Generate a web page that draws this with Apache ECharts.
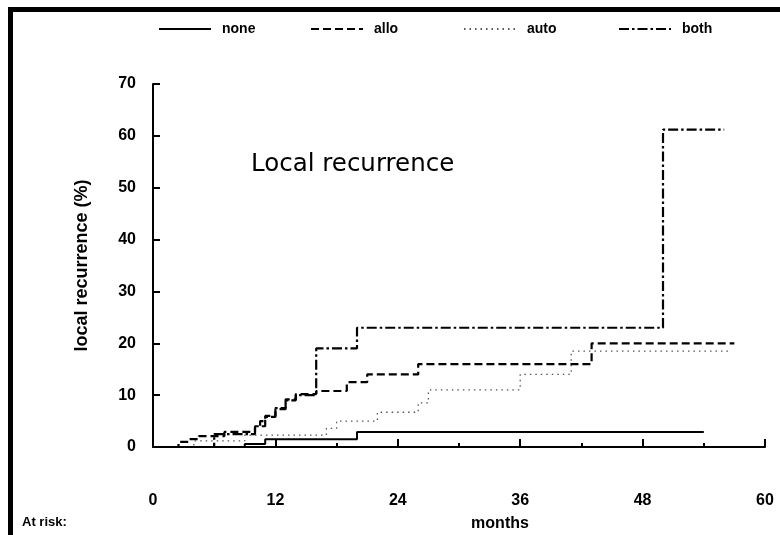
<!DOCTYPE html>
<html>
<head>
<meta charset="utf-8">
<script src="https://cdn.jsdelivr.net/npm/echarts@6/dist/echarts.min.js"></script>
<style>
  html, body { margin: 0; padding: 0; background: #fff; }
  #chart { width: 780px; height: 535px; }
</style>
</head>
<body>
<div id="chart"></div>
<script>
// Cumulative local recurrence (%) by treatment group; each pair is (month, % at that step)
const noneMonths = [0, 9, 11, 20, 54];
const noneValues = [0, 0.6, 1.5, 2.9, 2.9];

const alloMonths = [2, 2.5, 3.5, 4.5, 7, 10, 10.5, 11, 12, 13, 14, 16, 19, 21, 26, 43, 57];
const alloValues = [0, 1, 1.5, 2.1, 2.9, 4, 5, 6, 7.3, 9.2, 10.2, 10.8, 12.5, 14, 16, 20, 20];

const autoMonths = [2, 4, 9, 17, 18, 22, 26, 27, 36, 41, 56.5];
const autoValues = [0, 1.2, 2.3, 3.6, 5, 6.7, 8.5, 11, 14, 18.5, 18.5];

const bothMonths = [0, 6, 10, 11, 12, 13, 14, 16, 20, 50, 56];
const bothValues = [0, 2.5, 4, 5.8, 7.5, 9, 10, 19, 23, 61.2, 61.2];

const groupNames = ['none', 'allo', 'auto', 'both'];
const yTicks = [0, 10, 20, 30, 40, 50, 60, 70];
const xTicks = [0, 12, 24, 36, 48, 60];

const pairs = (xs, ys) => xs.map((x, i) => [x, ys[i]]);

const boldFont = '"Liberation Sans", Arial, sans-serif';

const lineStyles = {
  none: { color: '#000', width: 2, type: 'solid' },
  allo: { color: '#000', width: 2.2, type: [8, 4] },
  auto: { color: '#555', width: 1.3, type: [1.5, 4] },
  both: { color: '#000', width: 2.2, type: [10, 3, 2.5, 3] }
};

const seriesData = {
  none: pairs(noneMonths, noneValues),
  allo: pairs(alloMonths, alloValues),
  auto: pairs(autoMonths, autoValues),
  both: pairs(bothMonths, bothValues)
};

const legendLeft = { none: 153, allo: 305, auto: 458, both: 613 };

const chart = echarts.init(document.getElementById('chart'), null, { renderer: 'canvas' });

chart.setOption({
  backgroundColor: '#fff',
  animation: false,
  title: {
    text: 'Local recurrence',
    left: 246,
    top: 147,
    textStyle: {
      fontFamily: '"DejaVu Sans", Verdana, sans-serif',
      fontWeight: 'normal',
      fontSize: 24.5,
      color: '#000'
    }
  },
  legend: groupNames.map(name => ({
    show: true,
    data: [name],
    left: legendLeft[name],
    top: 17,
    orient: 'horizontal',
    itemWidth: 52,
    itemHeight: 14,
    selectedMode: false,
    itemStyle: { opacity: 0 },
    textStyle: {
      fontFamily: boldFont,
      fontWeight: 'bold',
      fontSize: 14,
      color: '#000',
      padding: [0, 0, 0, 6]
    }
  })),
  grid: { left: 153, right: 15, top: 84, bottom: 88, outerBoundsMode: 'none' },
  xAxis: {
    type: 'value',
    min: 0,
    max: 60,
    interval: 12,
    name: 'months',
    nameLocation: 'middle',
    nameGap: 69,
    nameTextStyle: {
      fontFamily: boldFont, fontWeight: 'bold', fontSize: 16, color: '#000',
      padding: [0, 0, 0, 82]
    },
    axisLine: { show: true, lineStyle: { color: '#000', width: 2 } },
    axisTick: { show: true, inside: true, length: 8, lineStyle: { color: '#000', width: 2 } },
    minorTick: { show: true, splitNumber: 2, length: 4, lineStyle: { color: '#000', width: 2 } },
    splitLine: { show: false },
    axisLabel: {
      margin: 46,
      fontFamily: boldFont,
      fontWeight: 'bold',
      fontSize: 16,
      color: '#000',
      formatter: v => (xTicks.includes(v) ? String(v) : '')
    }
  },
  yAxis: {
    type: 'value',
    min: 0,
    max: 70,
    interval: 10,
    name: 'local recurrence (%)',
    nameLocation: 'middle',
    nameRotate: 90,
    nameGap: 62,
    nameTextStyle: { fontFamily: boldFont, fontWeight: 'bold', fontSize: 18, color: '#000' },
    axisLine: { show: true, lineStyle: { color: '#000', width: 2 } },
    axisTick: { show: true, inside: true, length: 7, lineStyle: { color: '#000', width: 2 } },
    splitLine: { show: false },
    axisLabel: {
      margin: 17,
      fontFamily: boldFont,
      fontWeight: 'bold',
      fontSize: 16,
      color: '#000',
      formatter: v => (yTicks.includes(v) ? String(v) : '')
    }
  },
  series: groupNames.map(name => ({
    name: name,
    type: 'line',
    step: 'end',
    symbol: 'none',
    showSymbol: false,
    data: seriesData[name],
    lineStyle: lineStyles[name],
    itemStyle: { color: lineStyles[name].color }
  })),
  graphic: [
    // heavy frame on the left and top edges
    { type: 'rect', shape: { x: 8, y: 7, width: 5, height: 535 }, style: { fill: '#000' } },
    { type: 'rect', shape: { x: 8, y: 7, width: 772, height: 5 }, style: { fill: '#000' } },
    // end tick at the right end of the time axis
    { type: 'line', shape: { x1: 765, y1: 447, x2: 765, y2: 439 }, style: { stroke: '#000', lineWidth: 2 } },
    {
      type: 'text',
      left: 22,
      top: 516,
      style: { text: 'At risk:', font: 'bold 13px ' + boldFont, fill: '#000' }
    }
  ]
});
</script>
</body>
</html>
